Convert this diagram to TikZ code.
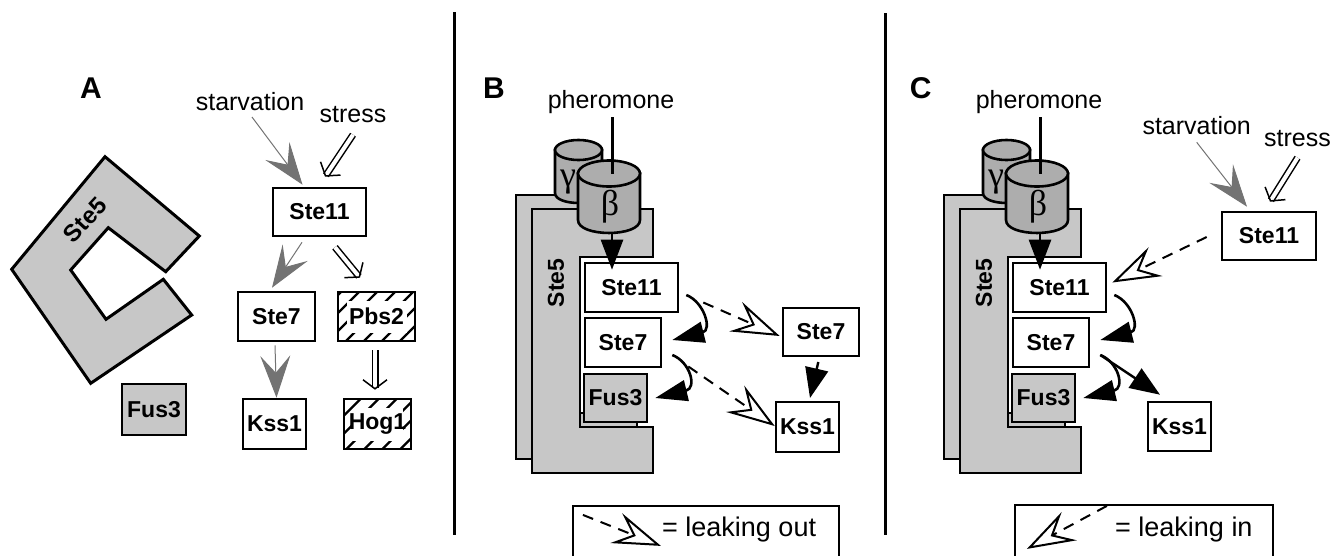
\documentclass[tikz,border=0pt]{standalone}
\usepackage{fontspec}
\setmainfont{Liberation Sans}
\newfontfamily\grk{Liberation Serif}
\usetikzlibrary{arrows.meta,calc}
\newcommand\myfs[1]{\fontsize{#1}{#1}\selectfont}
\begin{document}
\begin{tikzpicture}[x=1pt,y=-1pt,
  box/.style={draw, line width=2.6pt, fill=white, inner sep=0pt, font=\bfseries\myfs{23}},
  gbox/.style={box, fill=black!22},
  hatchbox/.style={box, path picture={
      \foreach \k in {-120,-102,...,120}{
        \draw[line width=2.2pt] ([xshift=\k pt, yshift=-60pt]path picture bounding box.center) -- ++(120pt,120pt);
      }
      \fill[white] ([shift={(8.5pt,8.5pt)}]path picture bounding box.south west) rectangle ([shift={(-8.5pt,-8.5pt)}]path picture bounding box.north east);
  }},
  lbl/.style={font=\myfs{25}, inner sep=0pt, anchor=base},
  plabel/.style={font=\bfseries\myfs{30}, inner sep=0pt, anchor=base},
  rotlbl/.style={font=\bfseries\myfs{23}, inner sep=0pt},
  scaf/.style={draw, line width=2.8pt, fill=black!22},
  cyl/.style={draw, line width=2.6pt, fill=black!32},
  greek/.style={font=\grk\myfs{36}, inner sep=0pt},
  grayarr/.style={draw=black!55, line width=1pt, -{Stealth[length=42pt,width=30pt,inset=17pt]}},
  dbl/.style={double, double distance=4pt, line width=1.5pt, -{Straight Barb[length=9pt,width=24pt]}},
  blk/.style={line width=2.6pt, -{Triangle[length=32pt,width=21pt]}},
  blkv/.style={line width=2.6pt, -{Triangle[length=30pt,width=22pt]}},
  blks/.style={line width=2.4pt, -{Triangle[length=30pt,width=23pt]}},
  leak/.style={line width=2pt, dash pattern=on 11pt off 8pt, -{Stealth[length=48pt,width=32pt,inset=18pt,fill=white,line width=2pt]}},
  legbox/.style={draw, line width=2.2pt, inner sep=0pt},
  legtxt/.style={font=\myfs{27}, inner sep=0pt, anchor=base west}
]
\useasboundingbox (0,0) rectangle (1333,555);

% ---------------- Panel A ----------------
\node[plabel] (labA) at (91,98.3) {A};
\node[lbl] (starvA) at (250,110) {starvation};
\node[lbl] (stressA) at (353,122.7) {stress};

\draw[scaf, line width=3pt] (105,156.7) -- (199.3,236) -- (165.7,271.7) -- (108.3,227.7) -- (70.7,270) -- (106,319.3) -- (163.3,279.3) -- (191.7,315) -- (90.7,383.3) -- (11.7,269.3) -- cycle;
\node[rotlbl, rotate=47, font=\bfseries\myfs{24}] (ste5a) at (85,220) {Ste5};

\node[box, minimum width=93pt, minimum height=48pt] (s11a) at (319.5,212) {Ste11};
\node[box, minimum width=77pt, minimum height=49pt] (s7a) at (276.5,316.5) {Ste7};
\node[hatchbox, minimum width=77pt, minimum height=49pt] (pbs) at (376.5,316.5) {Pbs2};
\node[box, minimum width=63pt, minimum height=50pt] (k1a) at (274.5,424) {Kss1};
\node[hatchbox, minimum width=67pt, minimum height=50pt] (hog) at (377.5,424) {Hog1};
\node[gbox, minimum width=64pt, minimum height=51pt] (f3a) at (154,409.5) {Fus3};

\draw[grayarr] ($(starvA.base)+(2,7)$) -- ($(s11a.north)+(-17,-2)$);
\draw[dbl] ($(stressA.base)+(0,12)$) -- ($(s11a.north)+(5.5,-10)$);
\draw[grayarr] ($(s11a.south)+(-17.5,5)$) -- ($(s7a.north)+(-4.5,-3)$);
\draw[dbl] ($(s11a.south)+(15.5,10)$) -- ($(pbs.north)+(-16.5,-13)$);
\draw[grayarr] ($(s7a.south)+(-1.5,3)$) -- ($(k1a.north)+(2,0)$);
\draw[dbl] ($(pbs.south)+(-1.5,8)$) -- ($(hog.north)+(-2.5,-8)$);

% ---------------- dividers ----------------
\draw[line width=2.4pt] (454.5,12) -- (454.5,535);
\draw[line width=2.4pt] (885.5,13) -- (885.5,535);

% ---------------- Panels B and C: shared scaffold ----------------
\node[plabel] (labB) at (494,98.3) {B};
\node[plabel] (labC) at (920.8,98) {C};

\foreach \p/\dx in {b/0,c/428}{
  \draw[scaf] (516+\dx,195) -- (637+\dx,195) -- (637+\dx,243) -- (564+\dx,243) -- (564+\dx,413) -- (637+\dx,413) -- (637+\dx,459) -- (516+\dx,459) -- cycle;
  \draw[scaf] (532+\dx,209) -- (653+\dx,209) -- (653+\dx,257) -- (580+\dx,257) -- (580+\dx,427) -- (653+\dx,427) -- (653+\dx,473) -- (532+\dx,473) -- cycle;
  \node[rotlbl, rotate=90] (ste5\p) at (556+\dx,283) {Ste5};
  % gamma cylinder
  \filldraw[cyl] (555+\dx,150) -- (555+\dx,193) .. controls (555+\dx,206.3) and (602+\dx,206.3) .. (602+\dx,193) -- (602+\dx,150) -- cycle;
  \filldraw[cyl] (578.5+\dx,150) ellipse [x radius=23.5, y radius=10];
  \node[greek] (gam\p) at (568+\dx,182) {γ};
  % beta cylinder
  \filldraw[cyl] (578+\dx,173.5) -- (578+\dx,220) .. controls (578+\dx,237.3) and (640+\dx,237.3) .. (640+\dx,220) -- (640+\dx,173.5) -- cycle;
  \filldraw[cyl] (609+\dx,173.5) ellipse [x radius=31, y radius=13];
  \node[greek] (bet\p) at (610+\dx,207) {β};
  \node[lbl] (ph\p) at (611+\dx,108) {pheromone};
  \draw[line width=3pt] ($(ph\p.base)+(1,9)$) -- (612+\dx,173.5);
  % boxes on the scaffold
  \node[box, minimum width=93pt, minimum height=49pt] (s11\p) at (631.5+\dx,287.5) {Ste11};
  \node[box, minimum width=76pt, minimum height=49pt] (s7\p) at (623+\dx,342.5) {Ste7};
  \node[gbox, minimum width=63pt, minimum height=48pt] (f3\p) at (615.5+\dx,398) {Fus3};
  \draw[blkv] (612+\dx,233) -- ($(s11\p.north)+(-19.5,8)$);
  \draw[blk] ($(s11\p.east)+(7,7.5)$) .. controls +(18,7) and +(40,-10) .. ($(s7\p.east)+(10,-2.5)$);
  \draw[blk] ($(s7\p.east)+(10,12.5)$) .. controls +(18,7) and +(42,-10) .. ($(f3\p.east)+(7,0)$);
}

% ---------------- Panel B ----------------
\node[box, minimum width=76pt, minimum height=48pt] (s7o) at (821,332) {Ste7};
\node[box, minimum width=63pt, minimum height=50pt] (k1b) at (807.5,427) {Kss1};
\draw[leak] ($(s11b.east)+(24,15)$) -- ($(s7o.west)+(-2,4)$);
\draw[leak] ($(s7b.east)+(26,24)$) -- ($(k1b.west)+(0,-1)$);
\draw[blks] ($(s7o.south)+(-2.7,4.7)$) -- ($(k1b.north)+(2.5,-2.7)$);

\node[legbox, minimum width=266pt, minimum height=70pt] (legb) at (706,541) {};
\node[legtxt] (legbt) at (662,536) {= leaking out};
\draw[leak] ($(legb.north west)+(11,10)$) -- ($(legb.north west)+(89,41)$);

% ---------------- Panel C ----------------
\node[lbl] (starvC) at (1196.7,134.3) {starvation};
\node[lbl] (stressC) at (1297.5,146.7) {stress};
\node[box, minimum width=94pt, minimum height=48pt] (s11o) at (1269,236) {Ste11};
\node[box, minimum width=63pt, minimum height=49pt] (k1c) at (1179.5,426.5) {Kss1};
\draw[grayarr] ($(starvC.base)+(0,8)$) -- ($(s11o.north)+(-22,-4)$);
\draw[dbl] ($(stressC.base)+(0,11)$) -- ($(s11o.north)+(1,-9)$);
\draw[leak] ($(s11o.west)+(-14,1)$) -- ($(s11c.east)+(5,-5)$);
\draw[blks] ($(s7c.east)+(10,12.5)$) -- ($(k1c.north)+(-19.5,-6)$);

\node[legbox, minimum width=258pt, minimum height=70pt] (legc) at (1144,540) {};
\node[legtxt] (legct) at (1115,536.7) {= leaking in};
\draw[leak] ($(legc.north west)+(93,2)$) -- ($(legc.north west)+(13,45)$);
\end{tikzpicture}
\end{document}
